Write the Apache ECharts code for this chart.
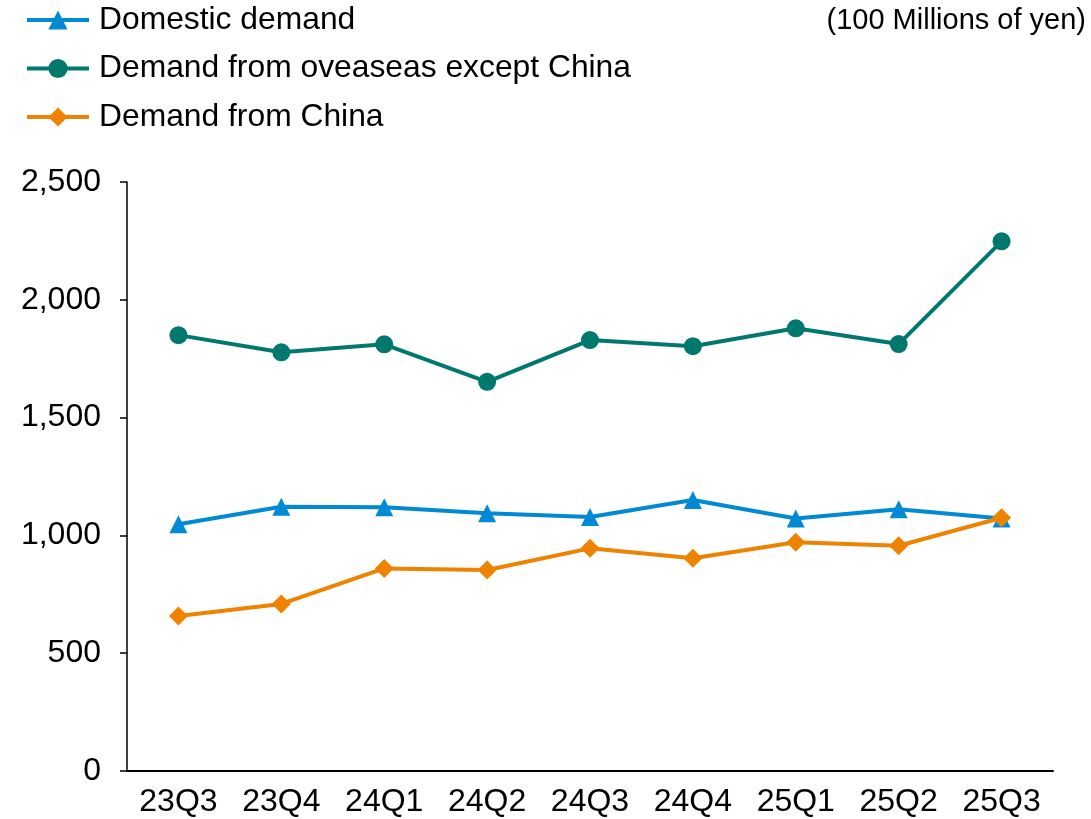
<!DOCTYPE html>
<html>
<head>
<meta charset="utf-8">
<script src="https://cdn.jsdelivr.net/npm/echarts@6/dist/echarts.min.js"></script>
<style>html,body{margin:0;padding:0;background:#fff}#c{width:1091px;height:819px}</style>
</head>
<body>
<div id="c"></div>
<script>
const categories = ['23Q3','23Q4','24Q1','24Q2','24Q3','24Q4','25Q1','25Q2','25Q3'];
const domestic = [1047, 1122, 1119, 1094, 1078, 1150, 1072, 1111, 1072];
const overseasExChina = [1850, 1777, 1811, 1652, 1829, 1803, 1879, 1812, 2248];
const china = [658, 709, 860, 853, 945, 903, 971, 956, 1075];
const yTicks = [0, 500, 1000, 1500, 2000, 2500];
const seriesNames = ['Domestic demand', 'Demand from oveaseas except China', 'Demand from China'];
const unitNote = '(100 Millions of yen)';

const font = 'Liberation Sans, Arial, sans-serif';
const chart = echarts.init(document.getElementById('c'));
function mk(name, data, color, symbol, size) {
  return {
    name, type: 'line', data, symbol, symbolSize: size,
    lineStyle: { color, width: 4 },
    itemStyle: { color },
    emphasis: { disabled: true },
    animation: false
  };
}
chart.setOption({
  animation: false,
  backgroundColor: '#fff',
  textStyle: { fontFamily: font },
  grid: { left: 127, right: 38, top: 182, bottom: 48, containLabel: false },
  graphic: [{
    type: 'text', right: 5, top: 6,
    style: { text: unitNote, fontSize: 29, fontFamily: font, fill: '#000' }
  }],
  legend: {
    orient: 'vertical', left: 25, top: 4, padding: 0,
    itemWidth: 62, itemHeight: 24, itemGap: 16.5,
    lineStyle: { width: 4 },
    textStyle: { fontSize: 31.8, color: '#000', fontFamily: font, padding: [0, 0, 0, 5] },
    data: seriesNames
  },
  xAxis: {
    type: 'category', data: categories, boundaryGap: true,
    axisLine: { lineStyle: { color: '#000', width: 2 } },
    axisTick: { show: false },
    axisLabel: { fontSize: 32, color: '#000', margin: 15, fontFamily: font }
  },
  yAxis: {
    type: 'value', min: yTicks[0], max: yTicks[yTicks.length - 1], interval: 500,
    axisLine: { show: true, lineStyle: { color: '#000', width: 1.5 } },
    axisTick: { show: true, length: 7, lineStyle: { color: '#000', width: 1.5 } },
    splitLine: { show: false },
    axisLabel: {
      fontSize: 32, color: '#000', margin: 26, fontFamily: font,
      formatter: v => v.toLocaleString('en-US')
    }
  },
  series: [
    mk(seriesNames[0], domestic, '#0089D4', 'triangle', 18),
    mk(seriesNames[1], overseasExChina, '#00786E', 'circle', 18),
    mk(seriesNames[2], china, '#EF8200', 'diamond', 19)
  ]
});
</script>
</body>
</html>
